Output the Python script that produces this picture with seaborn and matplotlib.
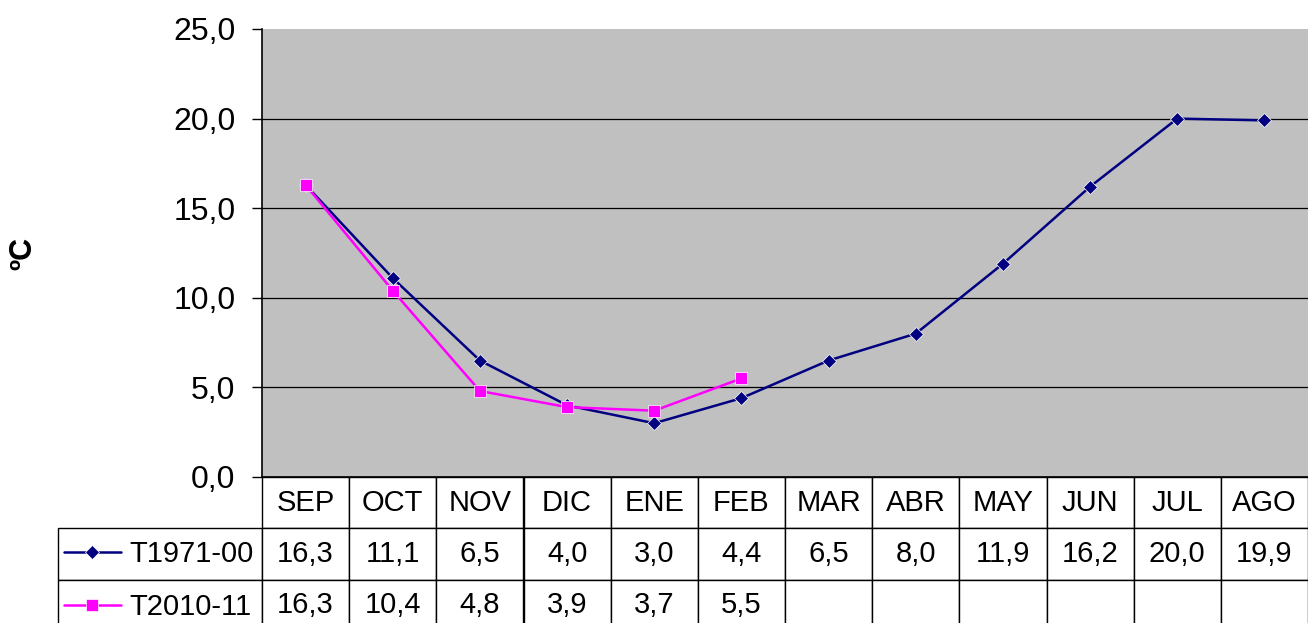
import numpy as np
import pandas as pd
import matplotlib
matplotlib.use("Agg")
import matplotlib.pyplot as plt
import seaborn as sns

# ── data ──────────────────────────────────────────────────────────────────────
months = ["SEP", "OCT", "NOV", "DIC", "ENE", "FEB", "MAR", "ABR", "MAY", "JUN", "JUL", "AGO"]
t1971_00 = [16.3, 11.1, 6.5, 4.0, 3.0, 4.4, 6.5, 8.0, 11.9, 16.2, 20.0, 19.9]
t2010_11 = [16.3, 10.4, 4.8, 3.9, 3.7, 5.5]
series_names = ["T1971-00", "T2010-11"]
y_ticks = [0, 5, 10, 15, 20, 25]

sns.set_theme(style="white")
plt.rcParams["font.family"] = ["Liberation Sans", "DejaVu Sans"]
plt.rcParams["text.color"] = "black"
plt.rcParams["ytick.color"] = "black"
plt.rcParams["axes.labelcolor"] = "black"

df = pd.concat([
    pd.DataFrame({"pos": np.arange(len(t1971_00)), "temp": t1971_00, "serie": series_names[0]}),
    pd.DataFrame({"pos": np.arange(len(t2010_11)), "temp": t2010_11, "serie": series_names[1]}),
], ignore_index=True)

W, H = 1308, 623
fig = plt.figure(figsize=(W / 100, H / 100), dpi=100)
ax = fig.add_axes([262 / W, 1 - 477 / H, 1046 / W, 448 / H])
ax.set_facecolor("#C0C0C0")

sns.lineplot(data=df, x="pos", y="temp", hue="serie", style="serie",
             palette={"T1971-00": "#000080", "T2010-11": "#FF00FF"},
             markers={"T1971-00": "D", "T2010-11": "s"},
             markersize=8, dashes=False, linewidth=1.8, legend=False, ax=ax)
for ln, ms in zip(ax.lines[:2], (7.5, 9)):
    ln.set_markersize(ms)
    ln.set_markeredgewidth(0.5)

ax.set_xlim(-0.5, len(months) - 0.5)
ax.set_ylim(0, 25)
ax.set_yticks(y_ticks)
ax.set_yticklabels([f"{v:.1f}".replace(".", ",") for v in y_ticks], fontsize=23)
ax.set_xticks([])
ax.set_xlabel("")
ax.set_ylabel("ºC", fontsize=22, fontweight="bold")
ax.yaxis.set_label_coords((38 - 262) / 1046, 0.5)
ax.tick_params(axis="y", direction="out", length=7, width=1, color="black", left=True, pad=12)
for y in y_ticks[1:-1]:
    ax.axhline(y, color="black", linewidth=0.9, zorder=0.5)
for s in ("top", "right"):
    ax.spines[s].set_visible(False)
for s in ("left", "bottom"):
    ax.spines[s].set_color("black")
    ax.spines[s].set_linewidth(1.2)

# ── data table under the axis ────────────────────────────────────────────────
fmt = lambda v: f"{v:.1f}".replace(".", ",")
rows = [[""] + months,
        [""] + [fmt(v) for v in t1971_00],
        [""] + [fmt(v) for v in t2010_11] + [""] * (len(months) - len(t2010_11))]
lab_w = 204 / 1046
tab = ax.table(cellText=rows, cellLoc="center",
               colWidths=[lab_w] + [1 / len(months)] * len(months),
               bbox=[-lab_w, -154 / 448, 1 + lab_w, 154 / 448])
tab.auto_set_font_size(False)
tab.set_fontsize(21)
for (r, c), cell in tab.get_celld().items():
    cell.set_edgecolor("black")
    cell.set_linewidth(1.0)
    cell.set_facecolor("white")
    cell.set_snap(True)
tab[0, 0].visible_edges = ""

fig.legend(handles=ax.lines[:2], labels=series_names, loc="upper left",
           bbox_to_anchor=(64 / W, 1 - 540 / H), frameon=False, fontsize=21,
           handlelength=1.95, handletextpad=0.3, labelspacing=0.85,
           borderpad=0, borderaxespad=0)

fig.savefig("out.png", dpi=100)
